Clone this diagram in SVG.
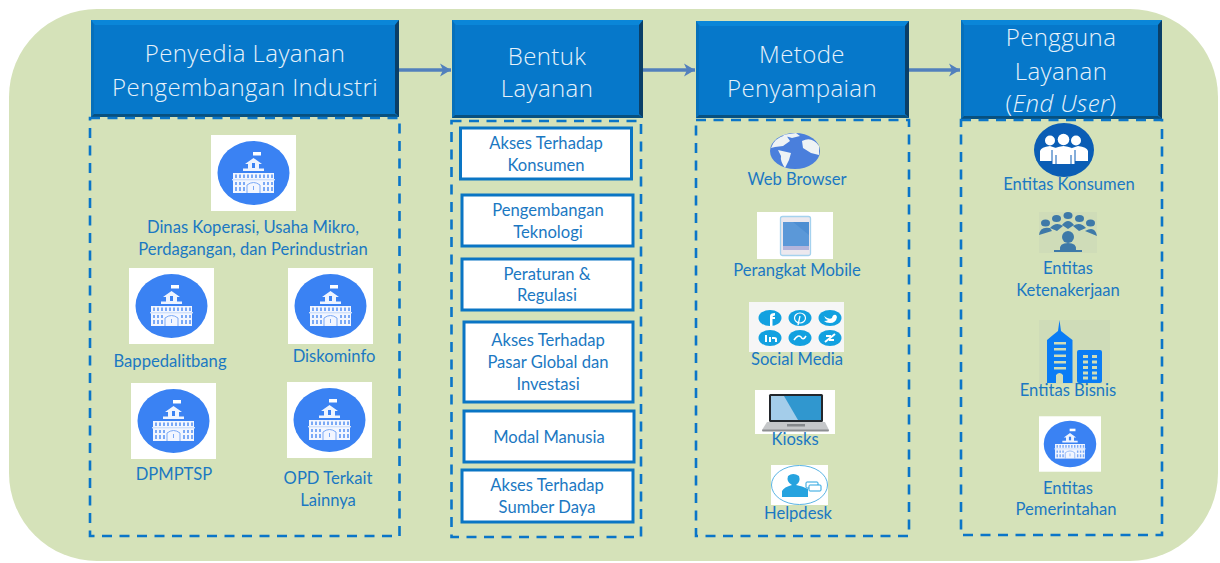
<svg xmlns="http://www.w3.org/2000/svg" xmlns:xlink="http://www.w3.org/1999/xlink" width="1220" height="563" viewBox="0 0 1220 563">
<style>
.hd{fill:#0678ca}.bt{fill:#0a86d8}.bl{fill:#0670ba}.br{fill:#0a3f68}.bb{fill:#07507f}
.ht{font-family:"Open Sans","Liberation Sans",sans-serif;font-weight:300;font-size:24px;fill:#e6f2fa;text-anchor:middle;letter-spacing:.4px}
.lb{font-family:Lato,"Liberation Sans",sans-serif;font-size:16.6px;fill:#1b78c2;text-anchor:middle}
.dash{fill:none;stroke:#0a75c8;stroke-width:2.6;stroke-dasharray:10 7.5}
.card{fill:#fff;stroke:#0a75c4;stroke-width:3}
.conn{fill:none;stroke:#5280bd;stroke-width:3.5}
.w{fill:#fff}
</style>
<defs>
<marker id="arr" markerUnits="userSpaceOnUse" markerWidth="14" markerHeight="16" refX="12" refY="7" orient="auto" overflow="visible">
<path d="M1 0.500 L12 7 L1 13.500 L4 7 Z" fill="#5280bd"/>
</marker>
<symbol id="gov" viewBox="0 0 85 76">
<rect width="85" height="76" fill="#fff"/>
<ellipse cx="42.500" cy="38" rx="36" ry="32" fill="#3a82f3"/>
<path d="M42 17h8v3.500h-8z" fill="#fff"/>
<path d="M42.500 23 L51 29 L48 29 V33.500 H53 V36 H32 V33.500 H37 V29 H34 Z" fill="#eef4ff"/>
<rect x="41" y="28" width="3" height="5" fill="#3a82f3"/>
<rect x="22" y="38" width="41" height="20" fill="#f2f6ff"/>
<rect x="21" y="44" width="43" height="1.400" fill="#cfe0fb"/>
<path d="M24 39.500h2v3.500h-2z M28 39.500h2v3.500h-2z M32 39.500h2v3.500h-2z M36 39.500h2v3.500h-2z M40 39.500h2v3.500h-2z M44 39.500h2v3.500h-2z M48 39.500h2v3.500h-2z M52 39.500h2v3.500h-2z M56 39.500h2v3.500h-2z M60 39.500h2v3.500h-2z" fill="#7aa9f6"/>
<path d="M24 47h2v3h-2z M28 47h2v3h-2z M32 47h2v3h-2z M52 47h2v3h-2z M56 47h2v3h-2z M60 47h2v3h-2z M24 52h2v4h-2z M28 52h2v4h-2z M32 52h2v4h-2z M52 52h2v4h-2z M56 52h2v4h-2z M60 52h2v4h-2z" fill="#7aa9f6"/>
<path d="M36 58 V50 Q42.500 45 49 50 V58" fill="none" stroke="#7aa9f6" stroke-width="1"/>
<rect x="42" y="51" width="1" height="4" fill="#7aa9f6"/>
</symbol>
</defs>
<rect id="panel" x="9" y="9" width="1209" height="552" rx="88" ry="88" fill="#d5e2b9"/>

<g id="connectors">
<line class="conn" x1="399" y1="70" x2="451" y2="70" marker-end="url(#arr)"/>
<line class="conn" x1="643" y1="70" x2="695" y2="70" marker-end="url(#arr)"/>
<line class="conn" x1="909" y1="70" x2="960" y2="70" marker-end="url(#arr)"/>
</g>

<g id="node-penyedia">
<rect class="hd" x="91" y="20" width="308" height="97"/>
<path class="bt" d="M91 20H399L395 25H95Z"/><path class="bl" d="M91 20L94 25V114L91 117Z"/><path class="br" d="M399 20L395 25V113L399 117Z"/><path class="bb" d="M91 117L94 114H395L399 117Z"/>
<text class="ht" x="245" y="62">Penyedia Layanan</text>
<text class="ht" x="245" y="96">Pengembangan Industri</text>
<rect class="dash" x="90" y="118" width="309.500" height="418"/>
<use xlink:href="#gov" href="#gov" x="211" y="135" width="85" height="76"/>
<text class="lb" x="253" y="233">Dinas Koperasi, Usaha Mikro,</text>
<text class="lb" x="253" y="255">Perdagangan, dan Perindustrian</text>
<use xlink:href="#gov" href="#gov" x="129" y="268" width="85" height="76"/>
<text class="lb" x="170" y="367">Bappedalitbang</text>
<use xlink:href="#gov" href="#gov" x="288" y="268" width="85" height="76"/>
<text class="lb" x="334" y="362">Diskominfo</text>
<use xlink:href="#gov" href="#gov" x="131" y="383" width="85" height="76"/>
<text class="lb" x="174" y="480">DPMPTSP</text>
<use xlink:href="#gov" href="#gov" x="287" y="382" width="85" height="76"/>
<text class="lb" x="328" y="484">OPD Terkait</text>
<text class="lb" x="328" y="506">Lainnya</text>
</g>

<g id="node-bentuk">
<rect class="hd" x="452" y="20" width="191" height="98"/>
<path class="bt" d="M452 20H643L639 25H456Z"/><path class="bl" d="M452 20L455 25V115L452 118Z"/><path class="br" d="M643 20L639 25V114L643 118Z"/><path class="bb" d="M452 118L455 115H639L643 118Z"/>
<text class="ht" x="547" y="65">Bentuk</text>
<text class="ht" x="547" y="97">Layanan</text>
<rect class="dash" x="451.500" y="121" width="189.500" height="416"/>
<rect class="card" x="460.500" y="128" width="171" height="51"/>
<text class="lb" x="546" y="149">Akses Terhadap</text><text class="lb" x="546" y="171">Konsumen</text>
<rect class="card" x="462" y="195" width="171" height="51"/>
<text class="lb" x="548" y="216">Pengembangan</text><text class="lb" x="548" y="238">Teknologi</text>
<rect class="card" x="462" y="259" width="171" height="51"/>
<text class="lb" x="547" y="280">Peraturan &amp;</text><text class="lb" x="547" y="301">Regulasi</text>
<rect class="card" x="464" y="322" width="169" height="80"/>
<text class="lb" x="548" y="346">Akses Terhadap</text><text class="lb" x="548" y="368">Pasar Global dan</text><text class="lb" x="548" y="390">Investasi</text>
<rect class="card" x="464" y="411" width="170" height="51"/>
<text class="lb" x="549" y="443">Modal Manusia</text>
<rect class="card" x="462" y="470" width="171" height="52"/>
<text class="lb" x="547" y="491">Akses Terhadap</text><text class="lb" x="547" y="513">Sumber Daya</text>
</g>

<g id="node-metode">
<rect class="hd" x="696" y="21" width="213" height="97"/>
<path class="bt" d="M696 21H909L905 26H700Z"/><path class="bl" d="M696 21L699 26V115L696 118Z"/><path class="br" d="M909 21L905 26V114L909 118Z"/><path class="bb" d="M696 118L699 115H905L909 118Z"/>
<text class="ht" x="802" y="63">Metode</text>
<text class="ht" x="802" y="97">Penyampaian</text>
<rect class="dash" x="696" y="120" width="213" height="416"/>
<g id="icon-globe">
<ellipse cx="795" cy="151" rx="25" ry="18" fill="#4a7fdc"/>
<path d="M771 148Q774 138 786 135L790 141L783 146L775 147Z M778 150L791 153L789 160L785 168Q780 161 781 156Z M802 141Q812 136 819 146L819 155L811 153L803 148Z M782 135L796 133L800 136L792 138Z" fill="#eef3f5"/>
</g>
<text class="lb" x="797" y="185">Web Browser</text>
<g id="icon-tablet">
<rect x="757" y="212" width="76" height="47" fill="#fff"/>
<rect x="780.500" y="216.500" width="30" height="39" rx="2" fill="#ece8ee" stroke="#a5d2ee" stroke-width="1.300"/>
<rect x="783" y="222" width="26" height="24" fill="#4e8ed2"/>
<path d="M783 222h10l16 13v11h-26z" fill="#5b98d8"/>
<rect x="783" y="246" width="26" height="4" fill="#b3b5dc"/>
</g>
<text class="lb" x="797" y="276">Perangkat Mobile</text>
<g id="icon-social">
<rect x="749" y="302" width="95" height="50" fill="#f6f6f6"/>
<g fill="#12a1e0">
<ellipse cx="770" cy="318" rx="11.500" ry="8"/><ellipse cx="800" cy="318" rx="11.500" ry="8"/><ellipse cx="830" cy="318" rx="11.500" ry="8"/>
<ellipse cx="770" cy="338" rx="11.500" ry="8"/><ellipse cx="800" cy="338" rx="11.500" ry="8"/><ellipse cx="830" cy="338" rx="11.500" ry="8"/>
</g>
<path d="M770 326V316Q770 313 775 313V315.500Q772.500 315.500 772.500 317H775V319H772.500V326Z" fill="#fff"/>
<ellipse cx="800" cy="318" rx="5.500" ry="5" fill="none" stroke="#fff" stroke-width="1.200"/>
<path d="M800 316L798 325" stroke="#fff" stroke-width="1.300"/>
<path d="M824 316Q829 320 832 318Q833 314 836 315L837 317Q836 323 830 323Q826 323 824 321Q827 321 828 320Q825 319 824 316Z" fill="#fff"/>
<path d="M765 335h2v7h-2z M769 337h2v5h-2z M772 337h2q3 0 3 2v3h-2v-3h-3z" fill="#fff"/>
<path d="M794 340Q798 334 801 337Q803 341 806 336" fill="none" stroke="#fff" stroke-width="1.600"/>
<path d="M825 342L835 334M826 336h5M829 340h5" fill="none" stroke="#fff" stroke-width="2"/>
</g>
<text class="lb" x="797" y="365">Social Media</text>
<g id="icon-laptop">
<rect x="755" y="390" width="80" height="44" fill="#fff"/>
<rect x="769" y="394" width="54" height="28" rx="1.500" fill="#23272c"/>
<rect x="771" y="396" width="50" height="24" fill="#3097cf"/>
<path d="M771 396H784L798 420H771Z" fill="#a4cdea"/>
<path d="M767 422H825L829 430H762Z" fill="#c5c7c9"/>
<rect x="787" y="424" width="18" height="2.500" fill="#85888b"/>
<rect x="762" y="429.500" width="67" height="2" rx="1" fill="#8d8f92"/>
</g>
<text class="lb" x="795" y="445">Kiosks</text>
<g id="icon-helpdesk">
<rect x="771" y="465" width="57" height="40" fill="#fff"/>
<ellipse cx="799.500" cy="485" rx="28" ry="19.500" fill="#fff" stroke="#5ab4e4" stroke-width="1"/>
<path d="M782 497V491Q784 487 792 485Q786 482 788 476Q793 472 799 476Q801 482 796 485Q802 486 808 489V497Z" fill="#26a3df"/>
<rect x="806" y="482" width="12" height="6" rx="1" fill="#fff" stroke="#26a3df" stroke-width="1"/>
<rect x="809" y="485" width="12" height="6" rx="1" fill="#fff" stroke="#26a3df" stroke-width="1"/>
</g>
<text class="lb" x="798" y="519">Helpdesk</text>
</g>

<g id="node-pengguna">
<rect class="hd" x="961" y="20" width="201" height="99"/>
<path class="bt" d="M961 20H1162L1158 25H964Z"/><path class="bl" d="M961 20L964 25V116L961 119Z"/><path class="br" d="M1162 20L1158 25V115L1162 119Z"/><path class="bb" d="M961 119L964 116H1158L1162 119Z"/>
<text class="ht" x="1061" y="46">Pengguna</text>
<text class="ht" x="1061" y="80">Layanan</text>
<text class="ht" x="1061" y="112">(<tspan font-style="italic">End User</tspan>)</text>
<rect class="dash" x="961" y="120" width="201" height="415"/>
<g id="icon-people">
<ellipse cx="1064" cy="150" rx="30" ry="27" fill="#0a5db5"/>
<g class="w">
<circle cx="1050" cy="140.500" r="5"/><circle cx="1063.500" cy="139.500" r="5.800"/><circle cx="1076" cy="140.500" r="5"/>
<path d="M1040 161V151Q1041 147 1050 146L1056 148V161Z"/><path d="M1072 148L1078 146Q1087 147 1088 151V161H1072Z"/>
<path d="M1052 164V151Q1054 147 1063.500 146Q1073 147 1075 151V164Z"/>
</g>
<path d="M1052 150V164M1075 150V164M1056 155V164M1071 155V164" stroke="#0a5db5" stroke-width="1"/>
</g>
<text class="lb" x="1069" y="190">Entitas Konsumen</text>
<g id="icon-group">
<rect x="1039" y="212" width="58" height="41" fill="#cfdcb8"/>
<g fill="#3e79a8">
<ellipse cx="1068" cy="215.500" rx="4.500" ry="3.500"/><ellipse cx="1056.500" cy="218.500" rx="4.500" ry="3.500"/><ellipse cx="1079.500" cy="218.500" rx="4.500" ry="3.500"/><ellipse cx="1045.500" cy="223" rx="4.500" ry="3.500"/><ellipse cx="1090.500" cy="223" rx="4.500" ry="3.500"/>
<path d="M1062 225Q1068 217 1074 225L1068 229Z M1050 228Q1056 221 1063 226L1057 231Z M1073 226Q1080 221 1086 228L1079 231Z M1039 235Q1040 226 1050 228L1052 231Z M1085 231Q1095 225 1097 236Z"/>
<circle cx="1068" cy="237" r="6"/>
<path d="M1060 250Q1059 243 1068 243Q1077 243 1076 250H1082V252H1054V250Z"/>
</g>
</g>
<text class="lb" x="1068" y="274">Entitas</text>
<text class="lb" x="1068" y="296">Ketenakerjaan</text>
<g id="icon-city">
<rect x="1039" y="320" width="71" height="64" fill="#cfdcb8"/>
<path d="M1047 383V340L1053 335L1058 331L1059.500 320L1061 331L1066 335L1072.500 340V383H1063V375Q1059.500 371 1056 375V383Z" fill="#0a7cf5"/>
<path d="M1054 342h12v2.500h-12z M1054 348h12v2.500h-12z M1054 354.500h12v2.500h-12z M1054 361h12v2.500h-12z M1054 367h12v2.500h-12z" fill="#cfdcb8"/>
<rect x="1077" y="350" width="25" height="33" rx="2" fill="#0a7cf5"/>
<path d="M1083 355h5v3h-5z M1092 355h5v3h-5z M1083 360.500h5v3h-5z M1092 360.500h5v3h-5z M1083 366h5v3h-5z M1092 366h5v3h-5z M1083 371.500h5v3h-5z M1092 371.500h5v3h-5z M1083 376.500h5v3h-5z M1092 376.500h5v3h-5z" fill="#cfdcb8"/>
</g>
<text class="lb" x="1068" y="396">Entitas Bisnis</text>
<use xlink:href="#gov" href="#gov" x="1039" y="416" width="62" height="56"/>
<text class="lb" x="1068" y="494">Entitas</text>
<text class="lb" x="1066" y="515">Pemerintahan</text>
</g>
</svg>
